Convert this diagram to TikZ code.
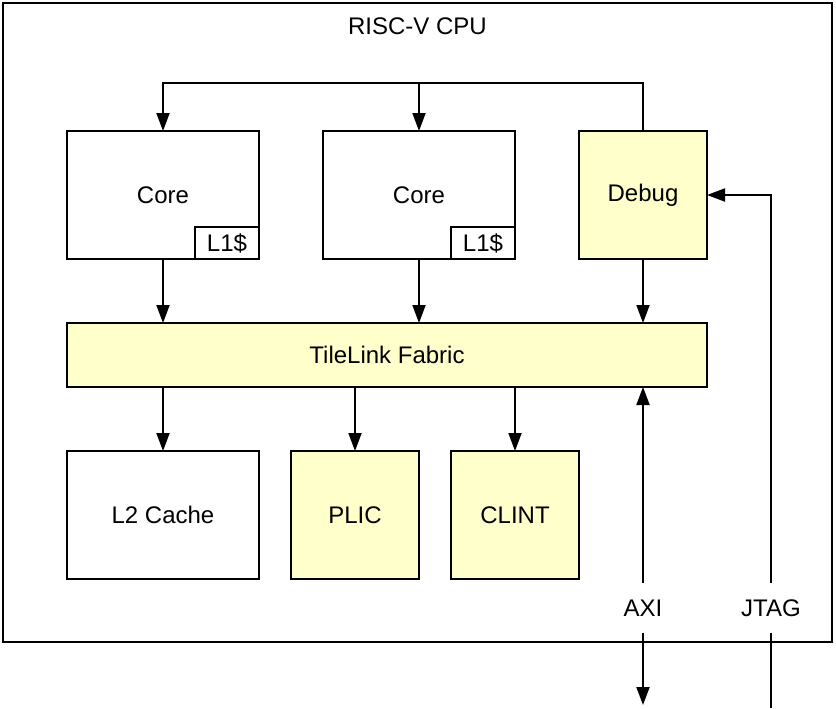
\documentclass[tikz,border=0pt]{standalone}
\usepackage{fontspec}
\setmainfont{Liberation Sans}
\usepackage{tikz}
\usetikzlibrary{shapes,arrows.meta,positioning}
\definecolor{lightyellow}{RGB}{255, 255, 204}
\tikzstyle{block} = [rectangle, draw=black, line width=1pt, fill=white, text=black, text centered, font=\fontsize{12}{14}\selectfont, inner sep=0pt, outer sep=0pt, minimum width=96pt, minimum height=64pt]
\tikzstyle{yblock} = [block, fill=lightyellow]
\tikzstyle{cache} = [block, minimum width=32pt, minimum height=16pt]
\tikzstyle{cpubox} = [rectangle, draw=black, line width=1pt, fill=none, inner sep=0pt, outer sep=0pt]
\tikzstyle{textonly} = [draw=none, fill=none, text centered, font=\fontsize{12}{14}\selectfont]
\tikzstyle{port} = [textonly, inner sep=0pt, outer sep=0pt, minimum height=25pt]
\tikzstyle{tedge}  = [draw, line width=1pt, >={Triangle[length=9pt,width=6.5pt]}, ->]
\tikzstyle{wire}  = [draw, line width=1pt]

\begin{document}
\begin{tikzpicture}[x=1pt, y=1pt]
\useasboundingbox (0,0) rectangle (418,-354);

% cpu frame =============================
\node[cpubox, minimum width=414.5pt, minimum height=319.5pt, anchor=north west] (cpu) at (1.5,-1.5) {};
\node[textonly, below=4pt of cpu.north] (title) {RISC-V CPU};

% blocks =============================
\node[block] (core1) at (81.5,-97.5) {Core};
\node[block, right=32pt of core1] (core2) {Core};
\node[yblock, right=32pt of core2, minimum width=64pt] (debug) {Debug};

\node[cache, anchor=south east] (l1a) at (core1.south east) {L1\$};
\node[cache, anchor=south east] (l1b) at (core2.south east) {L1\$};

\node[yblock, minimum width=320pt, minimum height=32pt, anchor=north west] (fabric) at ([yshift=-32pt]core1.south west) {TileLink Fabric};

\node[block, below=32pt of fabric.south west, anchor=north west] (l2) {L2 Cache};
\node[yblock, right=16pt of l2, minimum width=64pt] (plic) {PLIC};
\node[yblock, right=16pt of plic, minimum width=64pt] (clint) {CLINT};

% ports
\node[port] (axi) at (321.5,-304) {AXI};
\node[port] (jtag) at (385.5,-304) {JTAG};
\coordinate (axiout) at (321.5,-352.5);
\coordinate (jtagin) at (385.5,-354);
\coordinate (top) at ([yshift=24pt]core1.north);

% edges debug to cores
\path[tedge] (debug.north) |- (top) -- (core1.north);
\path[tedge] (core2.north |- top) -- (core2.north);

% edges cores to fabric
\path[tedge] (core1.south) -- (core1.south |- fabric.north);
\path[tedge] (core2.south) -- (core2.south |- fabric.north);
\path[tedge] (debug.south) -- (debug.south |- fabric.north);

% edges fabric to devices
\path[tedge] (fabric.south -| l2.north) -- (l2.north);
\path[tedge] (fabric.south -| plic.north) -- (plic.north);
\path[tedge] (fabric.south -| clint.north) -- (clint.north);

% external edges
\path[tedge] (axi) -- (fabric.south -| axi);
\path[tedge] (axi) -- (axiout);
\path[wire] (jtagin) -- (jtag);
\path[tedge] (jtag) |- (debug.east);

\end{tikzpicture}
\end{document}
